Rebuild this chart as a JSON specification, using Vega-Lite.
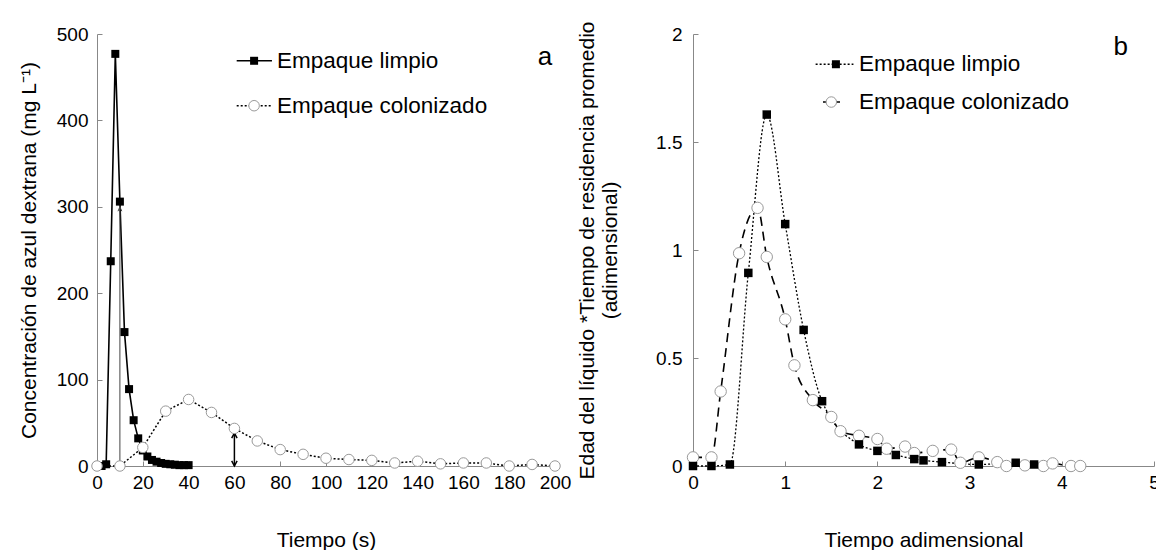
{
  "$schema": "https://vega.github.io/schema/vega-lite/v6.json",
  "background": "white",
  "padding": {"left": 18, "top": 20, "right": 0, "bottom": 0},
  "spacing": 5,
  "config": {
    "view": {"stroke": null},
    "font": "Liberation Sans",
    "axis": {
      "domainColor": "#888888", "tickColor": "#888888", "tickSize": -5, "domainWidth": 1, "tickWidth": 1,
      "labelFont": "Liberation Sans", "labelFontSize": 19, "labelColor": "#000000", "labelPadding": 12,
      "titleFont": "Liberation Sans", "titleFontSize": 21, "titleFontWeight": "normal", "titleColor": "#000000",
      "grid": false, "labelFlush": false, "labelOverlap": false
    }
  },
  "datasets": {
    "a": [
      {"t": 0, "c": 0, "s": "limpio"}, {"t": 2, "c": 0, "s": "limpio"}, {"t": 4, "c": 2, "s": "limpio"},
      {"t": 6, "c": 237, "s": "limpio"}, {"t": 8, "c": 477, "s": "limpio"}, {"t": 10, "c": 306, "s": "limpio"},
      {"t": 12, "c": 155, "s": "limpio"}, {"t": 14, "c": 89, "s": "limpio"}, {"t": 16, "c": 53, "s": "limpio"},
      {"t": 18, "c": 32, "s": "limpio"}, {"t": 20, "c": 18, "s": "limpio"}, {"t": 22, "c": 11, "s": "limpio"},
      {"t": 24, "c": 7, "s": "limpio"}, {"t": 26, "c": 5, "s": "limpio"}, {"t": 28, "c": 3.5, "s": "limpio"},
      {"t": 30, "c": 2.5, "s": "limpio"}, {"t": 32, "c": 2, "s": "limpio"}, {"t": 34, "c": 1.5, "s": "limpio"},
      {"t": 36, "c": 1, "s": "limpio"}, {"t": 38, "c": 1, "s": "limpio"}, {"t": 40, "c": 1, "s": "limpio"},
      {"t": 0, "c": 0, "s": "colonizado"}, {"t": 10, "c": 0, "s": "colonizado"}, {"t": 20, "c": 21.5, "s": "colonizado"},
      {"t": 30, "c": 63.5, "s": "colonizado"}, {"t": 40, "c": 77, "s": "colonizado"}, {"t": 50, "c": 62, "s": "colonizado"},
      {"t": 60, "c": 43.5, "s": "colonizado"}, {"t": 70, "c": 29, "s": "colonizado"}, {"t": 80, "c": 19, "s": "colonizado"},
      {"t": 90, "c": 13.5, "s": "colonizado"}, {"t": 100, "c": 9, "s": "colonizado"}, {"t": 110, "c": 7.5, "s": "colonizado"},
      {"t": 120, "c": 6.5, "s": "colonizado"}, {"t": 130, "c": 3.5, "s": "colonizado"}, {"t": 140, "c": 5.5, "s": "colonizado"},
      {"t": 150, "c": 2.5, "s": "colonizado"}, {"t": 160, "c": 3.5, "s": "colonizado"}, {"t": 170, "c": 3.5, "s": "colonizado"},
      {"t": 180, "c": 0, "s": "colonizado"}, {"t": 190, "c": 1.8, "s": "colonizado"}, {"t": 200, "c": 0, "s": "colonizado"}
    ],
    "b": [
      {"t": 0, "e": 0, "s": "limpio"}, {"t": 0.2, "e": 0, "s": "limpio"}, {"t": 0.4, "e": 0.007, "s": "limpio"},
      {"t": 0.6, "e": 0.894, "s": "limpio"}, {"t": 0.8, "e": 1.627, "s": "limpio"}, {"t": 1.0, "e": 1.12, "s": "limpio"},
      {"t": 1.2, "e": 0.63, "s": "limpio"}, {"t": 1.4, "e": 0.3, "s": "limpio"}, {"t": 1.8, "e": 0.1, "s": "limpio"},
      {"t": 2.0, "e": 0.07, "s": "limpio"}, {"t": 2.2, "e": 0.051, "s": "limpio"}, {"t": 2.4, "e": 0.032, "s": "limpio"},
      {"t": 2.5, "e": 0.026, "s": "limpio"}, {"t": 2.7, "e": 0.018, "s": "limpio"}, {"t": 3.1, "e": 0.007, "s": "limpio"},
      {"t": 3.5, "e": 0.015, "s": "limpio"}, {"t": 3.7, "e": 0.007, "s": "limpio"},
      {"t": 0, "e": 0.04, "s": "colonizado"}, {"t": 0.2, "e": 0.04, "s": "colonizado"}, {"t": 0.3, "e": 0.345, "s": "colonizado"},
      {"t": 0.5, "e": 0.985, "s": "colonizado"}, {"t": 0.7, "e": 1.195, "s": "colonizado"}, {"t": 0.8, "e": 0.968, "s": "colonizado"},
      {"t": 1.0, "e": 0.679, "s": "colonizado"}, {"t": 1.1, "e": 0.466, "s": "colonizado"}, {"t": 1.3, "e": 0.305, "s": "colonizado"},
      {"t": 1.5, "e": 0.227, "s": "colonizado"}, {"t": 1.6, "e": 0.161, "s": "colonizado"}, {"t": 1.8, "e": 0.14, "s": "colonizado"},
      {"t": 2.0, "e": 0.125, "s": "colonizado"}, {"t": 2.1, "e": 0.08, "s": "colonizado"}, {"t": 2.3, "e": 0.09, "s": "colonizado"},
      {"t": 2.4, "e": 0.06, "s": "colonizado"}, {"t": 2.6, "e": 0.07, "s": "colonizado"}, {"t": 2.8, "e": 0.076, "s": "colonizado"},
      {"t": 2.9, "e": 0.015, "s": "colonizado"}, {"t": 3.1, "e": 0.04, "s": "colonizado"}, {"t": 3.3, "e": 0.018, "s": "colonizado"},
      {"t": 3.4, "e": 0.0, "s": "colonizado"}, {"t": 3.6, "e": 0.003, "s": "colonizado"}, {"t": 3.8, "e": 0.0, "s": "colonizado"},
      {"t": 3.9, "e": 0.012, "s": "colonizado"}, {"t": 4.1, "e": 0.0, "s": "colonizado"}, {"t": 4.2, "e": 0.0, "s": "colonizado"}
    ],
    "one": [{}]
  },
  "hconcat": [
    {
      "width": 458, "height": 432,
      "data": {"name": "a"},
      "layer": [
        {
          "transform": [{"filter": "datum.s === 'colonizado'"}],
          "mark": {"type": "line", "color": "#000000", "strokeWidth": 1.5, "strokeDash": [2, 2]},
          "encoding": {
            "x": {"field": "t", "type": "quantitative", "scale": {"domain": [0, 200], "nice": false},
                  "axis": {"title": "Tiempo (s)", "values": [0,10,20,30,40,50,60,70,80,90,100,110,120,130,140,150,160,170,180,190,200],
                           "labelExpr": "datum.value % 20 === 0 ? datum.label : ''", "titlePadding": 37}},
            "y": {"field": "c", "type": "quantitative", "scale": {"domain": [0, 500], "nice": false},
                  "axis": {"title": "Concentración de azul dextrana (mg L⁻¹)", "values": [0,100,200,300,400,500], "labelPadding": 14, "titlePadding": 17}}
          }
        },
        {
          "transform": [{"filter": "datum.s === 'limpio'"}],
          "mark": {"type": "line", "color": "#000000", "strokeWidth": 1.6},
          "encoding": {"x": {"field": "t", "type": "quantitative"}, "y": {"field": "c", "type": "quantitative"}}
        },
        {
          "data": {"name": "one"},
          "mark": {"type": "rule", "color": "#444444", "strokeWidth": 1},
          "encoding": {"x": {"datum": 10, "type": "quantitative"}, "y": {"datum": 0, "type": "quantitative"}, "y2": {"datum": 300}}
        },
        {
          "data": {"name": "one"},
          "mark": {"type": "point", "shape": "M-0.6,1.4L0,0L0.6,1.4", "filled": false, "stroke": "#444444", "strokeWidth": 1, "size": 40, "opacity": 1},
          "encoding": {"x": {"datum": 10, "type": "quantitative"}, "y": {"datum": 300, "type": "quantitative"}}
        },
        {
          "data": {"name": "one"},
          "mark": {"type": "point", "shape": "M-0.6,-1.4L0,0L0.6,-1.4", "filled": false, "stroke": "#444444", "strokeWidth": 1, "size": 40, "opacity": 1},
          "encoding": {"x": {"datum": 10, "type": "quantitative"}, "y": {"datum": 0, "type": "quantitative"}}
        },
        {
          "data": {"name": "one"},
          "mark": {"type": "rule", "color": "#000000", "strokeWidth": 1.5},
          "encoding": {"x": {"datum": 60, "type": "quantitative"}, "y": {"datum": 0, "type": "quantitative"}, "y2": {"datum": 38}}
        },
        {
          "data": {"name": "one"},
          "mark": {"type": "point", "shape": "M-0.7,1.3L0,0L0.7,1.3", "filled": false, "stroke": "#000000", "strokeWidth": 1.5, "size": 60, "opacity": 1},
          "encoding": {"x": {"datum": 60, "type": "quantitative"}, "y": {"datum": 38, "type": "quantitative"}}
        },
        {
          "data": {"name": "one"},
          "mark": {"type": "point", "shape": "M-0.7,-1.3L0,0L0.7,-1.3", "filled": false, "stroke": "#000000", "strokeWidth": 1.5, "size": 60, "opacity": 1},
          "encoding": {"x": {"datum": 60, "type": "quantitative"}, "y": {"datum": 0, "type": "quantitative"}}
        },
        {
          "transform": [{"filter": "datum.s === 'limpio'"}],
          "mark": {"type": "point", "shape": "square", "filled": true, "color": "#000000", "size": 64, "opacity": 1},
          "encoding": {"x": {"field": "t", "type": "quantitative"}, "y": {"field": "c", "type": "quantitative"}}
        },
        {
          "transform": [{"filter": "datum.s === 'colonizado'"}],
          "mark": {"type": "point", "shape": "circle", "filled": true, "fill": "#ffffff", "stroke": "#999999", "strokeWidth": 1, "size": 110, "opacity": 1},
          "encoding": {"x": {"field": "t", "type": "quantitative"}, "y": {"field": "c", "type": "quantitative"}}
        },
        {
          "data": {"name": "one"},
          "mark": {"type": "rule", "color": "#000000", "strokeWidth": 1.6},
          "encoding": {"x": {"datum": 61, "type": "quantitative"}, "x2": {"datum": 76.4}, "y": {"datum": 469, "type": "quantitative"}}
        },
        {
          "data": {"name": "one"},
          "mark": {"type": "point", "shape": "square", "filled": true, "color": "#000000", "size": 64, "opacity": 1},
          "encoding": {"x": {"datum": 68.6, "type": "quantitative"}, "y": {"datum": 469, "type": "quantitative"}}
        },
        {
          "data": {"name": "one"},
          "mark": {"type": "rule", "color": "#000000", "strokeWidth": 1.5, "strokeDash": [2, 2]},
          "encoding": {"x": {"datum": 61, "type": "quantitative"}, "x2": {"datum": 76.4}, "y": {"datum": 417, "type": "quantitative"}}
        },
        {
          "data": {"name": "one"},
          "mark": {"type": "point", "shape": "circle", "filled": true, "fill": "#ffffff", "stroke": "#999999", "strokeWidth": 1, "size": 110, "opacity": 1},
          "encoding": {"x": {"datum": 68.6, "type": "quantitative"}, "y": {"datum": 417, "type": "quantitative"}}
        },
        {
          "data": {"name": "one"},
          "mark": {"type": "text", "align": "left", "baseline": "middle", "fontSize": 22.5, "font": "Liberation Sans", "fontWeight": "normal", "fill": "#000000"},
          "encoding": {"x": {"datum": 78.6, "type": "quantitative"}, "y": {"datum": 469, "type": "quantitative"}, "text": {"value": "Empaque limpio"}}
        },
        {
          "data": {"name": "one"},
          "mark": {"type": "text", "align": "left", "baseline": "middle", "fontSize": 22.5, "font": "Liberation Sans", "fontWeight": "normal", "fill": "#000000"},
          "encoding": {"x": {"datum": 78.6, "type": "quantitative"}, "y": {"datum": 417, "type": "quantitative"}, "text": {"value": "Empaque colonizado"}}
        },
        {
          "data": {"name": "one"},
          "mark": {"type": "text", "align": "center", "baseline": "middle", "fontSize": 26, "font": "Liberation Sans", "fontWeight": "normal", "fill": "#000000"},
          "encoding": {"x": {"datum": 195.6, "type": "quantitative"}, "y": {"datum": 473, "type": "quantitative"}, "text": {"value": "a"}}
        }
      ]
    },
    {
      "width": 461, "height": 432,
      "data": {"name": "b"},
      "layer": [
        {
          "transform": [{"filter": "datum.s === 'colonizado'"}],
          "mark": {"type": "line", "color": "#000000", "strokeWidth": 1.6, "strokeDash": [9, 6], "interpolate": "monotone"},
          "encoding": {
            "x": {"field": "t", "type": "quantitative", "scale": {"domain": [0, 5], "nice": false},
                  "axis": {"title": "Tiempo adimensional", "values": [0,1,2,3,4,5], "format": "~g", "titlePadding": 37}},
            "y": {"field": "e", "type": "quantitative", "scale": {"domain": [0, 2], "nice": false},
                  "axis": {"title": ["Edad del líquido *Tiempo de residencia promedio", "(adimensional)"], "values": [0,0.5,1,1.5,2], "format": "~g", "labelPadding": 16, "titlePadding": 35}}
          }
        },
        {
          "transform": [{"filter": "datum.s === 'limpio'"}],
          "mark": {"type": "line", "color": "#000000", "strokeWidth": 1.3, "strokeDash": [2, 2], "interpolate": "monotone"},
          "encoding": {"x": {"field": "t", "type": "quantitative"}, "y": {"field": "e", "type": "quantitative"}}
        },
        {
          "transform": [{"filter": "datum.s === 'colonizado'"}],
          "mark": {"type": "point", "shape": "circle", "filled": true, "fill": "#ffffff", "stroke": "#999999", "strokeWidth": 1, "size": 130, "opacity": 1},
          "encoding": {"x": {"field": "t", "type": "quantitative"}, "y": {"field": "e", "type": "quantitative"}}
        },
        {
          "transform": [{"filter": "datum.s === 'limpio'"}],
          "mark": {"type": "point", "shape": "square", "filled": true, "color": "#000000", "size": 72, "opacity": 1},
          "encoding": {"x": {"field": "t", "type": "quantitative"}, "y": {"field": "e", "type": "quantitative"}}
        },
        {
          "data": {"name": "one"},
          "mark": {"type": "rule", "color": "#000000", "strokeWidth": 1.3, "strokeDash": [2, 2]},
          "encoding": {"x": {"datum": 1.33, "type": "quantitative"}, "x2": {"datum": 1.74}, "y": {"datum": 1.86, "type": "quantitative"}}
        },
        {
          "data": {"name": "one"},
          "mark": {"type": "point", "shape": "square", "filled": true, "color": "#000000", "size": 64, "opacity": 1},
          "encoding": {"x": {"datum": 1.55, "type": "quantitative"}, "y": {"datum": 1.86, "type": "quantitative"}}
        },
        {
          "data": {"name": "one"},
          "mark": {"type": "rule", "color": "#000000", "strokeWidth": 1.6, "strokeDash": [6, 5]},
          "encoding": {"x": {"datum": 1.41, "type": "quantitative"}, "x2": {"datum": 1.62}, "y": {"datum": 1.685, "type": "quantitative"}}
        },
        {
          "data": {"name": "one"},
          "mark": {"type": "point", "shape": "circle", "filled": true, "fill": "#ffffff", "stroke": "#999999", "strokeWidth": 1, "size": 110, "opacity": 1},
          "encoding": {"x": {"datum": 1.5, "type": "quantitative"}, "y": {"datum": 1.685, "type": "quantitative"}}
        },
        {
          "data": {"name": "one"},
          "mark": {"type": "text", "align": "left", "baseline": "middle", "fontSize": 22.5, "font": "Liberation Sans", "fontWeight": "normal", "fill": "#000000"},
          "encoding": {"x": {"datum": 1.8, "type": "quantitative"}, "y": {"datum": 1.86, "type": "quantitative"}, "text": {"value": "Empaque limpio"}}
        },
        {
          "data": {"name": "one"},
          "mark": {"type": "text", "align": "left", "baseline": "middle", "fontSize": 22.5, "font": "Liberation Sans", "fontWeight": "normal", "fill": "#000000"},
          "encoding": {"x": {"datum": 1.8, "type": "quantitative"}, "y": {"datum": 1.685, "type": "quantitative"}, "text": {"value": "Empaque colonizado"}}
        },
        {
          "data": {"name": "one"},
          "mark": {"type": "text", "align": "center", "baseline": "middle", "fontSize": 26, "font": "Liberation Sans", "fontWeight": "normal", "fill": "#000000"},
          "encoding": {"x": {"datum": 4.64, "type": "quantitative"}, "y": {"datum": 1.94, "type": "quantitative"}, "text": {"value": "b"}}
        }
      ]
    }
  ]
}
